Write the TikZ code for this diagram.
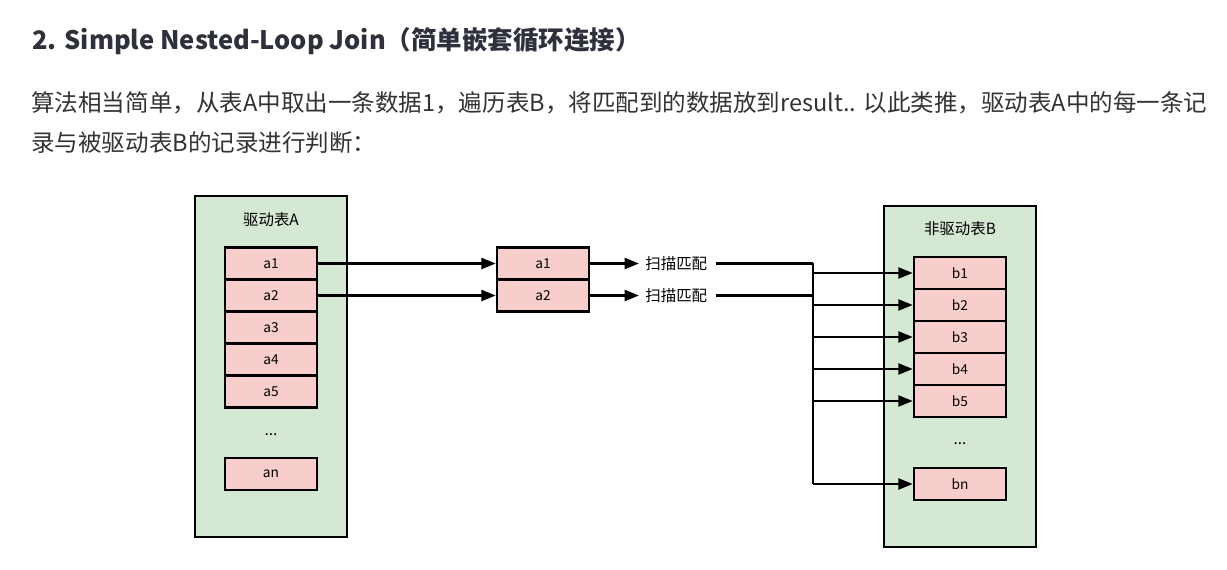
\documentclass[tikz,border=0pt]{standalone}
\usepackage{fontspec}
\setmainfont{Noto Sans CJK SC}
\usepackage{tikz}
\usetikzlibrary{arrows.meta}
\definecolor{tblgreen}{HTML}{D5E8D4}
\definecolor{recpink}{HTML}{F8CECC}
\definecolor{titlegray}{HTML}{2E313B}
\definecolor{textgray}{HTML}{333333}
\tikzset{
	tbl/.style={draw=black, line width=1.4pt, fill=tblgreen},
	rec/.style={draw=black, line width=1.4pt, fill=recpink, minimum width=1.84cm, minimum height=0.64cm, inner sep=0pt, font=\fontsize{7.8}{9}\selectfont},
	lbl/.style={inner sep=0pt, font=\fontsize{8.8}{10}\selectfont},
	link/.style={line width=1.4pt, -{Triangle[length=0.29cm,width=0.22cm]}},
	wire/.style={line width=1.4pt},
}

\begin{document}
\begin{tikzpicture}[x=0.02cm, y=-0.02cm]
			%%%%% START %%%%%
			\useasboundingbox[fill=white] (0, 0) rectangle (1227, 570);
			
			\node[anchor=base west, inner sep=0pt, text=titlegray, font=\bfseries\fontsize{14.5}{18}\selectfont] (title) at (32, 50) {2. Simple Nested-Loop Join（简单嵌套循环连接）};
			\node[anchor=west, inner sep=0pt, text=textgray, font=\fontsize{13.4}{16}\selectfont] (line1) at (31, 103) {算法相当简单，从表A中取出一条数据1，遍历表B，将匹配到的数据放到result.. 以此类推，驱动表A中的每一条记};
			\node[anchor=west, inner sep=0pt, text=textgray, font=\fontsize{13.4}{16}\selectfont] (line2) at (31, 143) {录与被驱动表B的记录进行判断：};
			
			% driving table A
			\draw[tbl] (195, 196) rectangle (347, 537);
			\node[lbl] (tableA) at (271, 220) {驱动表A};
			\foreach \i in {1,...,5}
				\node[rec] (a\i) at (271, {231.5+32*\i}) {a\i};
			\node[lbl] (adots) at (271, 435) {...};
			\node[rec] (an) at (271, 474) {an};
			
			% rows taken out of A
			\node[rec] (ma1) at (543, 263.5) {a1};
			\node[rec] (ma2) at (543, 295.5) {a2};
			\draw[link] (a1.east |- ma1) -- (ma1.west);
			\draw[link] (a2.east |- ma2) -- (ma2.west);
			
			\node[lbl, anchor=west] (scan1) at (645, 263.5) {扫描匹配};
			\node[lbl, anchor=west] (scan2) at (645, 295.5) {扫描匹配};
			\draw[link] (ma1.east) -- ([xshift=-0.12cm]scan1.west);
			\draw[link] (ma2.east) -- ([xshift=-0.12cm]scan2.west);
			
			% non-driving table B
			\draw[tbl] (884, 206) rectangle (1036, 547);
			\node[lbl] (tableB) at (960, 229) {非驱动表B};
			\foreach \i in {1,...,5}
				\node[rec] (b\i) at (960, {241+32*\i}) {b\i};
			\node[lbl] (bdots) at (960, 444) {...};
			\node[rec] (bn) at (960, 484) {bn};
			
			% scan every row of B
			\coordinate (bus) at (813, 263.5);
			\draw[wire] ([xshift=0.16cm]scan1.east) -- (scan1.east -| bus);
			\draw[wire] ([xshift=0.16cm]scan2.east) -- (scan2.east -| bus);
			\draw[wire] (bus) -- (bus |- bn.west);
			\foreach \b in {b1,b2,b3,b4,b5,bn}
				\draw[link] (bus |- \b.west) -- (\b.west);
			
			%%%%% END %%%%%
\end{tikzpicture}
\end{document}
